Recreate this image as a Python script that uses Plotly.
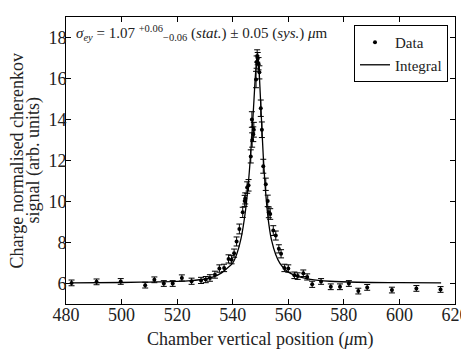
import plotly.graph_objects as go

# scan positions (um) and charge-normalised cherenkov signal
position = [482.0, 491.0, 499.7, 508.5, 511.8, 515.2, 518.4, 521.7, 525.2, 528.6,
            530.3, 531.8, 533.6, 535.2, 536.9, 538.5, 539.6, 540.5, 541.4, 542.4,
            543.6, 544.3, 544.5, 545.2, 545.7, 546.5, 546.9, 547.0, 547.4, 547.6,
            548.4, 548.6, 548.8, 549.0, 549.3, 549.6, 550.1, 550.5, 551.0, 551.9,
            552.6, 553.0, 553.5, 554.6, 555.5, 556.6, 557.4, 558.6, 560.0, 562.2,
            563.4, 565.4, 566.8, 568.6, 571.8, 575.3, 578.6, 581.8, 585.2, 588.4,
            597.3, 606.1, 614.8]
signal = [6.03, 6.08, 6.10, 5.92, 6.18, 6.00, 6.00, 6.27, 6.11, 6.15,
          6.19, 6.27, 6.43, 6.73, 6.76, 7.20, 7.16, 7.48, 8.05, 8.66,
          9.47, 10.03, 10.15, 10.68, 10.79, 12.20, 14.00, 13.00, 13.28, 13.50,
          15.95, 16.80, 17.10, 16.97, 16.72, 16.30, 14.55, 13.50, 11.72, 10.84,
          10.03, 9.47, 9.39, 8.58, 8.34, 7.69, 7.45, 6.76, 6.73, 6.40,
          6.36, 6.50, 6.32, 5.96, 6.10, 5.84, 5.84, 6.00, 5.63, 5.81,
          5.68, 5.76, 5.71]
signal_err = [0.14, 0.14, 0.14, 0.14, 0.14, 0.14, 0.14, 0.15, 0.15, 0.15,
              0.15, 0.16, 0.17, 0.18, 0.18, 0.2, 0.2, 0.2, 0.22, 0.24,
              0.25, 0.27, 0.27, 0.28, 0.28, 0.32, 0.38, 0.35, 0.36, 0.36,
              0.4, 0.3, 0.3, 0.3, 0.3, 0.32, 0.4, 0.38, 0.34, 0.3,
              0.28, 0.26, 0.26, 0.24, 0.22, 0.2, 0.2, 0.18, 0.18, 0.16,
              0.16, 0.16, 0.15, 0.15, 0.14, 0.14, 0.14, 0.14, 0.14, 0.14,
              0.14, 0.14, 0.14]
position_err = [0.4] * len(position)

# integral fit curve
fit_x = [482, 500, 510, 520, 525, 530, 533, 536, 538, 540, 541.5, 543, 544.5,
         545.5, 546.5, 547.5, 548.3, 548.8, 549.3, 550, 551, 552, 553, 554,
         555.5, 557, 559, 561, 564, 568, 575, 585, 600, 615]
fit_y = [6.03, 6.05, 6.07, 6.10, 6.14, 6.22, 6.32, 6.52, 6.74, 7.0, 7.45, 8.2, 9.45,
         10.7, 12.4, 14.6, 16.4, 17.1, 16.7, 15.0, 12.2, 10.2, 8.9, 8.1,
         7.4, 6.98, 6.66, 6.48, 6.32, 6.2, 6.11, 6.06, 6.04, 6.03]

FONT = "Liberation Serif"
TXT = '#222'

fig = go.Figure()

fig.add_trace(go.Scatter(
    x=position, y=signal, mode='markers', name='Data',
    marker=dict(color='black', size=4),
    error_y=dict(type='data', array=signal_err, color='black', thickness=1, width=3),
    error_x=dict(type='data', array=position_err, color='black', thickness=1, width=0),
))

fig.add_trace(go.Scatter(
    x=fit_x, y=fit_y, mode='lines', name='Integral',
    line=dict(color='black', width=1.3, shape='spline'),
))

axis_style = dict(
    showline=True, linecolor='black', linewidth=1, mirror='allticks',
    ticks='inside', ticklen=5, tickcolor='black', showgrid=False, zeroline=False,
    automargin=False, tickfont=dict(family=FONT, size=18, color=TXT),
)

fig.update_xaxes(range=[480, 620], dtick=20, ticklabelstandoff=-6, **axis_style)
fig.update_yaxes(range=[5, 19], dtick=2, ticklabelstandoff=-5, **axis_style)

# axis titles as annotations so they sit where the reference has them
fig.add_annotation(
    xref='paper', yref='paper', x=0.5, y=-0.125, xanchor='center', yanchor='middle',
    text='Chamber vertical position (<i>μ</i>m)',
    showarrow=False, font=dict(family=FONT, size=18, color=TXT),
)
fig.add_annotation(
    xref='paper', yref='paper', x=-0.1285, y=0.5, xanchor='center', yanchor='middle',
    text='Charge normalised cherenkov', textangle=-90,
    showarrow=False, font=dict(family=FONT, size=18, color=TXT),
)
fig.add_annotation(
    xref='paper', yref='paper', x=-0.0823, y=0.5, xanchor='center', yanchor='middle',
    text='signal (arb. units)', textangle=-90,
    showarrow=False, font=dict(family=FONT, size=18, color=TXT),
)

fig.add_annotation(
    xref='paper', yref='paper', x=0.02, y=0.945, xanchor='left', yanchor='middle',
    text='<i>σ<sub>ey</sub></i> = 1.07 <sup>+0.06</sup><sub>−0.06</sub> (<i>stat.</i>) ± 0.05 (<i>sys.</i>) <i>μ</i>m',
    showarrow=False, font=dict(family=FONT, size=15, color=TXT),
)

# the page body adds an 8px offset, so margins are shifted to compensate
fig.update_layout(
    width=469, height=352,
    margin=dict(l=58, r=22, t=9, b=56),
    plot_bgcolor='white', paper_bgcolor='white',
    legend=dict(x=0.982, y=0.972, xanchor='right', yanchor='top',
                bordercolor='black', borderwidth=1, bgcolor='white',
                font=dict(family=FONT, size=15, color=TXT)),
    showlegend=True,
)

fig.write_html("out.html")
